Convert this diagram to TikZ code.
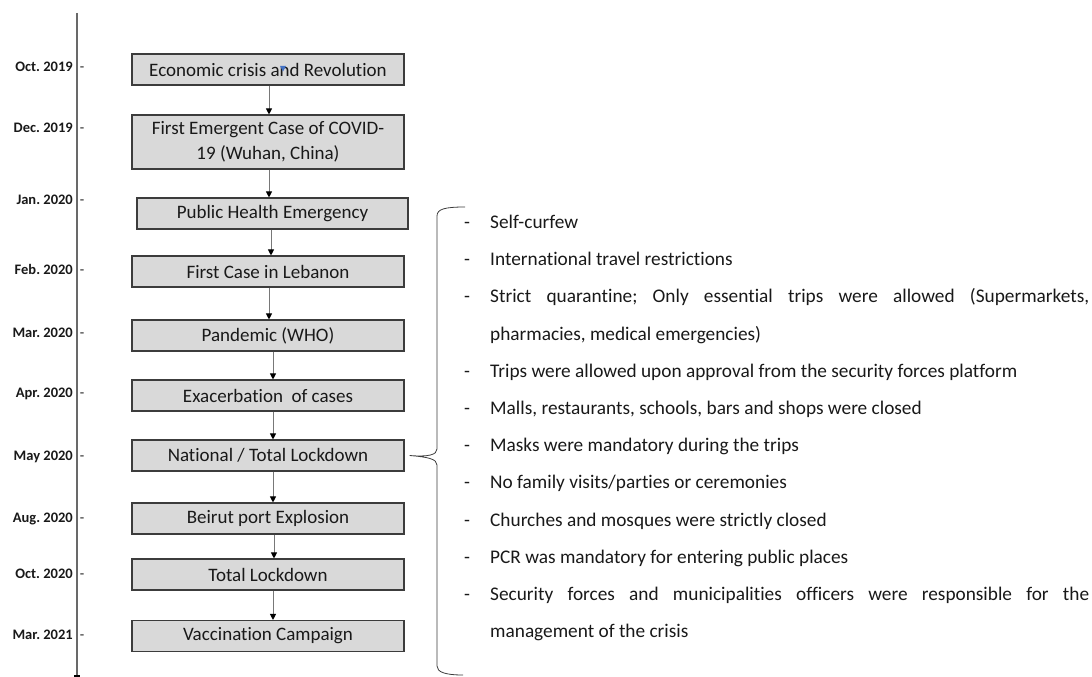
\documentclass[tikz,border=0pt]{standalone}
\usepackage{fontspec}
\setmainfont[Ligatures=NoCommon]{Carlito}
\usepackage{tikz}
\usepackage{xcolor}
\usetikzlibrary{arrows.meta}
\frenchspacing

\definecolor{boxfill}{RGB}{217,217,217}
\definecolor{boxline}{RGB}{60,60,60}
\definecolor{flowgray}{RGB}{120,120,120}
\definecolor{axisgray}{RGB}{105,105,105}
\definecolor{inktext}{RGB}{25,25,25}
\definecolor{wordblue}{RGB}{68,114,196}

\tikzset{
    eventbox/.style={draw=boxline, fill=boxfill, line width=1.1pt, minimum width=272pt, minimum height=31pt,
        inner sep=0pt, align=center, text=inktext, font=\fontsize{19}{25}\selectfont},
    flow/.style={draw=flowgray, line width=0.9pt, -{Triangle[length=6pt, width=6pt, color=black]}},
    datelabel/.style={anchor=east, inner sep=0pt, text height=0.75em, text depth=0.1em, text=inktext,
        font=\fontsize{14.5}{17}\selectfont\bfseries},
    datedash/.style={inner sep=0pt, text height=0.75em, text depth=0.1em, text=inktext, font=\fontsize{14.5}{17}\selectfont},
    itemdash/.style={inner sep=0pt, text height=0.75em, text depth=0.25em, text=inktext, font=\fontsize{19.3}{23}\selectfont},
    itemtext/.style={anchor=west, inner sep=0pt, text height=0.75em, text depth=0.25em, text=inktext, font=\fontsize{19.3}{23}\selectfont},
    brace/.style={draw=boxline, line width=0.8pt}
}

\begin{document}
\begin{tikzpicture}[x=1pt, y=-1pt]
        \pgfmathsetmacro{\listgap}{37.2}

        \useasboundingbox (0, 0) rectangle (1092, 677);

        \draw [axisgray, line width=1.6pt] (77, 13) -- (77, 676);
        \draw [black, line width=1.6pt] (74, 676.2) -- (80, 676.2);

        \node [datelabel] (doct19) at (73, 68) {Oct. 2019};
        \node [datelabel] (ddec19) at (73, 129) {Dec. 2019};
        \node [datelabel] (djan20) at (73, 201) {Jan. 2020};
        \node [datelabel] (dfeb20) at (73, 271) {Feb. 2020};
        \node [datelabel] (dmar20) at (73, 334) {Mar. 2020};
        \node [datelabel] (dapr20) at (73, 394) {Apr. 2020};
        \node [datelabel] (dmay20) at (73, 457) {May 2020};
        \node [datelabel] (daug20) at (73, 519) {Aug. 2020};
        \node [datelabel] (doct20) at (73, 575) {Oct. 2020};
        \node [datelabel] (dmar21) at (73, 636) {Mar. 2021};

        \node [datedash] (koct19) at (82, 68) {-};
        \node [datedash] (kdec19) at (82, 129) {-};
        \node [datedash] (kjan20) at (82, 201) {-};
        \node [datedash] (kfeb20) at (82, 271) {-};
        \node [datedash] (kmar20) at (82, 334) {-};
        \node [datedash] (kapr20) at (82, 394) {-};
        \node [datedash] (kmay20) at (82, 457) {-};
        \node [datedash] (kaug20) at (82, 519) {-};
        \node [datedash] (koct20) at (82, 575) {-};
        \node [datedash] (kmar21) at (82, 636) {-};

        \node [eventbox] (crisis) at (268, 69.5) {Economic crisis and Revolution};
        \node [eventbox, minimum height=54pt] (wuhan) at (268, 142) {First Emergent Case of COVID-\\19 (Wuhan, China)};
        \node [eventbox, minimum width=271pt] (emergency) at (272.5, 213.5) {Public Health Emergency};
        \node [eventbox] (lebanon) at (268, 271.5) {First Case in Lebanon};
        \node [eventbox] (pandemic) at (268, 335.5) {Pandemic (WHO)};
        \node [eventbox] (cases) at (268, 395.5) {Exacerbation\ \ of cases};
        \node [eventbox] (lockdown) at (268, 455.5) {National / Total Lockdown};
        \node [eventbox] (explosion) at (268, 518.5) {Beirut port Explosion};
        \node [eventbox] (total) at (268, 574.5) {Total Lockdown};
        \node [eventbox] (vaccine) at (268, 636) {Vaccination Campaign};

        \fill [wordblue] (280, 66) -- (286, 66) -- (283, 71.5) -- cycle;

        \draw [flow] ([xshift=1pt]crisis.south) -- ([xshift=1pt]crisis.south |- wuhan.north);
        \draw [flow] ([xshift=1pt]wuhan.south) -- ([xshift=1pt]wuhan.south |- emergency.north);
        \draw [flow] ([xshift=-1.5pt]emergency.south) -- ([xshift=-1.5pt]emergency.south |- lebanon.north);
        \draw [flow] ([xshift=1pt]lebanon.south) -- ([xshift=1pt]lebanon.south |- pandemic.north);
        \draw [flow] ([xshift=5pt]pandemic.south) -- ([xshift=5pt]pandemic.south |- cases.north);
        \draw [flow] ([xshift=5pt]cases.south) -- ([xshift=5pt]cases.south |- lockdown.north);
        \draw [flow] ([xshift=5pt]lockdown.south) -- ([xshift=5pt]lockdown.south |- explosion.north);
        \draw [flow] ([xshift=6pt]explosion.south) -- ([xshift=6pt]explosion.south |- total.north);
        \draw [flow] ([xshift=5pt]total.south) -- ([xshift=5pt]total.south |- vaccine.north);

        \coordinate (bracetip) at ([xshift=5pt]lockdown.east);
        \draw [brace] (465, 207) .. controls (445, 207) and (437, 209) .. (437, 216) -- (437, 449)
            .. controls (437, 455) and (428, 457) .. (bracetip)
            .. controls (428, 457) and (437, 459) .. (437, 465) -- (437, 666)
            .. controls (437, 672) and (445, 675) .. (463, 675);

        \node [itemdash] (m1) at (467, 226) {-};
        \node [itemdash] (m2) at (467, 226 + \listgap) {-};
        \node [itemdash] (m3) at (467, 226 + 2*\listgap) {-};
        \node [itemdash] (m4) at (467, 226 + 4*\listgap) {-};
        \node [itemdash] (m5) at (467, 226 + 5*\listgap) {-};
        \node [itemdash] (m6) at (467, 226 + 6*\listgap) {-};
        \node [itemdash] (m7) at (467, 226 + 7*\listgap) {-};
        \node [itemdash] (m8) at (467, 226 + 8*\listgap) {-};
        \node [itemdash] (m9) at (467, 226 + 9*\listgap) {-};
        \node [itemdash] (m10) at (467, 226 + 10*\listgap) {-};

        \node [itemtext] (curfew) at (490, 226) {Self-curfew};
        \node [itemtext] (travel) at (490, 226 + \listgap) {International travel restrictions};
        \node [itemtext] (quarantine) at (490, 226 + 2*\listgap) {\makebox[599pt][s]{Strict quarantine; Only essential trips were allowed (Supermarkets,}};
        \node [itemtext] (quarantineb) at (490, 226 + 3*\listgap) {pharmacies, medical emergencies)};
        \node [itemtext] (approval) at (490, 226 + 4*\listgap) {Trips were allowed upon approval from the security forces platform};
        \node [itemtext] (malls) at (490, 226 + 5*\listgap) {Malls, restaurants, schools, bars and shops were closed};
        \node [itemtext] (masks) at (490, 226 + 6*\listgap) {Masks were mandatory during the trips};
        \node [itemtext] (visits) at (490, 226 + 7*\listgap) {No family visits/parties or ceremonies};
        \node [itemtext] (churches) at (490, 226 + 8*\listgap) {Churches and mosques were strictly closed};
        \node [itemtext] (pcr) at (490, 226 + 9*\listgap) {PCR was mandatory for entering public places};
        \node [itemtext] (security) at (490, 226 + 10*\listgap) {\makebox[599pt][s]{Security forces and municipalities officers were responsible for the}};
        \node [itemtext] (securityb) at (490, 226 + 11*\listgap) {management of the crisis};
    \end{tikzpicture}
\end{document}
